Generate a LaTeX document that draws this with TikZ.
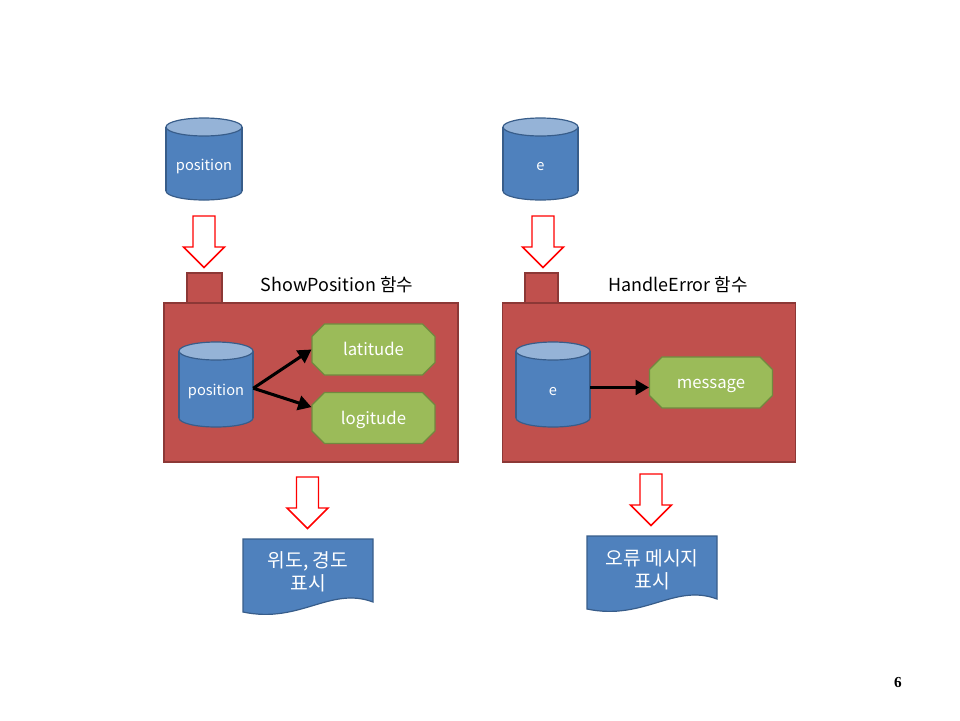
\documentclass[tikz,border=0pt]{standalone}
\usepackage{fontspec}
\setmainfont{Noto Sans CJK KR}
\newfontfamily\numfont{Liberation Serif}
\usetikzlibrary{shapes.misc,arrows.meta}
\definecolor{dbblue}{HTML}{4F81BD}
\definecolor{dbline}{HTML}{385D8A}
\definecolor{dbtop}{HTML}{95B3D7}
\definecolor{fnred}{HTML}{C0504D}
\definecolor{fnline}{HTML}{8C3836}
\definecolor{valgreen}{HTML}{9BBB59}
\definecolor{valline}{HTML}{71893F}

\begin{document}
\begin{tikzpicture}[x=0.02646cm,y=-0.02646cm,
    dbline/.style={draw=dbline,line width=0.9pt},
    dbtext/.style={rectangle,inner sep=0pt,text=white,font=\fontsize{11}{13}\selectfont},
    fnbox/.style={rectangle,draw=fnline,fill=fnred,line width=0.9pt,inner sep=0pt},
    val/.style={chamfered rectangle,chamfered rectangle xsep=0.36cm,draw=valline,fill=valgreen,
      line width=0.9pt,minimum width=3.25cm,minimum height=1.35cm,inner sep=0pt,text=white,
      text height=1.9ex,text depth=0.2ex,font=\fontsize{12.6}{15}\selectfont},
    doc/.style={rectangle,minimum width=3.44cm,minimum height=1.6cm,inner sep=0pt,
      align=center,text=white,font=\fontsize{14.5}{17.5}\selectfont},
    title/.style={font=\fontsize{13.5}{16}\selectfont},
    hollow/.style={draw=red,line width=1.1pt,fill=white,line join=miter},
    flow/.style={line width=2.3pt,-{Triangle[length=10pt,width=11pt]}}]
  \useasboundingbox (0,0) rectangle (960,720);
  \draw
    (311,382.5) node[fnbox,minimum width=7.78cm,minimum height=4.21cm](showFn){}
    (204.5,288) node[fnbox,minimum width=0.93cm,minimum height=0.79cm](showTab){}
    (337,285) node[title](showTitle){ShowPosition 함수}
    (649,382.5) node[fnbox,minimum width=7.75cm,minimum height=4.21cm](errFn){}
    (541.5,288) node[fnbox,minimum width=0.87cm,minimum height=0.79cm](errTab){}
    (678,285) node[title](errTitle){HandleError 함수}
    (898,683) node[font=\numfont\bfseries\fontsize{11.5}{13}\selectfont](page){6};
  \coordinate (posInC) at (204,159);
  \coordinate (errInC) at (540.5,159);
  \coordinate (posC) at (216,384.5);
  \coordinate (errC) at (553,384.5);
  \coordinate (showOutC) at (308,575.5);
  \coordinate (errOutC) at (652,572.5);
  \foreach \c/\w/\h in {posInC/38/41,errInC/37.5/41,posC/37/42.5,errC/37/42.5} {
    \draw[dbline,fill=dbblue] (\c) ++(0,{\h-9}) ellipse[x radius=\w,y radius=9];
    \fill[dbblue] (\c) ++(-\w,{9-\h}) rectangle ++({2*\w},{2*\h-18});
    \draw[dbline] (\c) ++(-\w,{9-\h}) -- ++(0,{2*\h-18}) ++({2*\w},0) -- ++(0,{18-2*\h});
    \draw[dbline,fill=dbtop] (\c) ++(0,{9-\h}) ellipse[x radius=\w,y radius=9];
  }
  \foreach \c in {showOutC,errOutC}
    \draw[dbline,fill=dbblue] (\c) ++(-65,-36.5) -- ++(130,0) -- ++(0,63)
      .. controls +(-43,-16) and +(57,12) .. ++(-130,10) -- cycle;
  \draw
    (204,167) node[dbtext,minimum width=2.01cm,minimum height=1.7cm](posIn){position}
    (540.5,167) node[dbtext,minimum width=1.98cm,minimum height=1.7cm](errIn){e}
    (216,392) node[dbtext,minimum width=1.96cm,minimum height=1.8cm](pos){position}
    (553,392) node[dbtext,minimum width=1.96cm,minimum height=1.8cm](err){e}
    (373.5,349.5) node[val](lat){latitude}
    (373.5,418) node[val](lon){logitude}
    (711,382.5) node[val](msg){message}
    (308,571.5) node[doc](showOut){위도, 경도\\표시}
    (652,570) node[doc](errOut){오류 메시지\\표시};
  \draw[flow] ([yshift=0.1cm]pos.east) -- (lat.west);
  \draw[flow] ([yshift=0.1cm]pos.east) -- (lon.170);
  \draw[flow] ([yshift=0.12cm]err.east) -- ([yshift=0.12cm]err.east -| msg.west);
  \coordinate (inA) at (204,216);
  \coordinate (inB) at (543,216);
  \coordinate (outA) at (307.5,477);
  \coordinate (outB) at (651,474);
  \foreach \c in {inA,inB,outA,outB}
    \draw[hollow] (\c) ++(-11,0) -- ++(22,0) -- ++(0,31) -- ++(9.5,0) -- ++(-20.5,20.5)
      -- ++(-20.5,-20.5) -- ++(9.5,0) -- cycle;
\end{tikzpicture}
\end{document}
